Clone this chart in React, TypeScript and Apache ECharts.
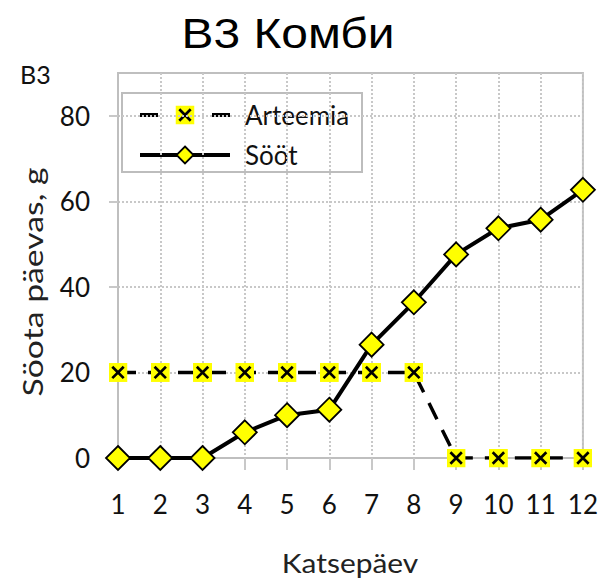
import React, { useEffect, useRef } from "react";
import * as echarts from "echarts";

const days = ["1", "2", "3", "4", "5", "6", "7", "8", "9", "10", "11", "12"];
const arteemia = [20, 20, 20, 20, 20, 20, 20, 20, 0, 0, 0, 0];
const soot = [0, 0, 0, 6, 10, 11.3, 26.5, 36.4, 47.6, 53.7, 55.7, 62.7];
const yTicks = [0, 20, 40, 60, 80];
const seriesNames = ["Arteemia", "Sööt"];

const FONT = "Lato, 'Open Sans', sans-serif";

// yellow square with a black cross, used as the Arteemia marker
const crossSvg =
  "<svg xmlns='http://www.w3.org/2000/svg' width='20' height='20' viewBox='0 0 20 20'>" +
  "<rect width='20' height='20' fill='#ffff00'/>" +
  "<path d='M4 4L16 16M16 4L4 16' stroke='#000' stroke-width='2.8'/></svg>";
const crossUrl = "data:image/svg+xml;charset=utf-8," + encodeURIComponent(crossSvg);
const crossSymbol = "image://" + crossUrl;

// boxed key in the upper-left corner of the plot
function legendBox() {
  const bx = 122;
  const by = 93;
  const rows = [115, 155];
  const lx0 = 140;
  const lx1 = 230;
  const cx = (lx0 + lx1) / 2;
  return {
    type: "group",
    z: 100,
    children: [
      {
        type: "rect",
        shape: { x: bx, y: by, width: 240, height: 79 },
        style: { fill: "#fff", stroke: "#bdbdbd", lineWidth: 2 },
      },
      {
        type: "rect",
        shape: { x: lx0, y: rows[0] - 2, width: 18, height: 4 },
        style: { fill: "#000" },
      },
      {
        type: "rect",
        shape: { x: lx1 - 18, y: rows[0] - 2, width: 18, height: 4 },
        style: { fill: "#000" },
      },
      {
        type: "image",
        style: { image: crossUrl, x: cx - 9.5, y: rows[0] - 9.5, width: 19, height: 19 },
      },
      {
        type: "rect",
        shape: { x: lx0, y: rows[1] - 2, width: lx1 - lx0, height: 4 },
        style: { fill: "#000" },
      },
      {
        type: "polygon",
        shape: {
          points: [
            [cx, rows[1] - 8.5],
            [cx + 8.5, rows[1]],
            [cx, rows[1] + 8.5],
            [cx - 8.5, rows[1]],
          ],
        },
        style: { fill: "#ffff00", stroke: "#000", lineWidth: 1.8 },
      },
      ...seriesNames.map((name, i) => ({
        type: "text",
        style: {
          text: name,
          x: 245,
          y: rows[i],
          textVerticalAlign: "middle",
          font: `26px ${FONT}`,
          fill: "#111",
        },
      })),
    ],
  };
}

export default function App() {
  const ref = useRef<HTMLDivElement>(null);

  useEffect(() => {
    if (!ref.current) return;
    const chart = echarts.init(ref.current, undefined, { renderer: "svg" });
    chart.setOption({
      animation: false,
      backgroundColor: "#ffffff",
      graphic: [
        {
          // chart title
          type: "text",
          x: 288,
          y: 34,
          scaleX: 1.14,
          style: {
            text: "B3 Комби",
            x: 0,
            y: 0,
            textAlign: "center",
            textVerticalAlign: "middle",
            font: "42px 'Liberation Sans', Arial, sans-serif",
            fill: "#000",
          },
        },
        {
          type: "text",
          left: 20,
          top: 61,
          style: { text: "B3", font: `25px ${FONT}`, fill: "#111" },
        },
        {
          // y axis name
          type: "text",
          x: 33,
          y: 282,
          rotation: Math.PI / 2,
          scaleX: 1.25,
          style: {
            text: "Söota päevas, g",
            x: 0,
            y: 0,
            textAlign: "center",
            textVerticalAlign: "middle",
            font: `27px ${FONT}`,
            fill: "#222",
          },
        },
        {
          // x axis name
          type: "text",
          x: 350,
          y: 563,
          scaleX: 1.15,
          style: {
            text: "Katsepäev",
            x: 0,
            y: 0,
            textAlign: "center",
            textVerticalAlign: "middle",
            font: `26px ${FONT}`,
            fill: "#222",
          },
        },
        legendBox(),
      ],
      grid: {
        left: 118,
        right: 18,
        top: 73,
        bottom: 121,
        show: true,
        borderColor: "#bfbfbf",
        borderWidth: 2,
      },
      xAxis: {
        type: "category",
        data: days,
        boundaryGap: false,
        axisLine: { lineStyle: { color: "#bfbfbf", width: 2 } },
        axisTick: { show: true, length: 12, lineStyle: { color: "#c8c8c8", width: 2 } },
        axisLabel: { fontFamily: FONT, fontSize: 26, color: "#111", margin: 33 },
        splitLine: { show: true, lineStyle: { type: "dotted", color: "#c8c8c8", width: 2 } },
      },
      yAxis: {
        type: "value",
        min: 0,
        max: 90,
        interval: 20,
        axisLine: { show: true, lineStyle: { color: "#bfbfbf", width: 2 } },
        axisTick: {
          show: true,
          length: 9,
          customValues: yTicks,
          lineStyle: { color: "#c8c8c8", width: 2 },
        },
        axisLabel: {
          fontFamily: FONT,
          fontSize: 26,
          color: "#111",
          margin: 28,
          customValues: yTicks,
        },
        splitLine: { show: true, lineStyle: { type: "dotted", color: "#c8c8c8", width: 2 } },
      },
      series: [
        {
          name: seriesNames[0],
          type: "line",
          data: arteemia,
          symbol: crossSymbol,
          symbolSize: 19,
          lineStyle: { color: "#000", width: 3.5, type: [18, 12] },
          itemStyle: { color: "#ffff00", borderColor: "#000" },
          z: 2,
        },
        {
          name: seriesNames[1],
          type: "line",
          data: soot,
          symbol: "diamond",
          symbolSize: 24,
          lineStyle: { color: "#000", width: 4 },
          itemStyle: { color: "#ffff00", borderColor: "#000", borderWidth: 1.8 },
          z: 3,
        },
      ],
    });
    return () => chart.dispose();
  }, []);

  return (
    <div
      ref={ref}
      style={{ position: "fixed", left: 0, top: 0, width: 601, height: 579 }}
    />
  );
}
